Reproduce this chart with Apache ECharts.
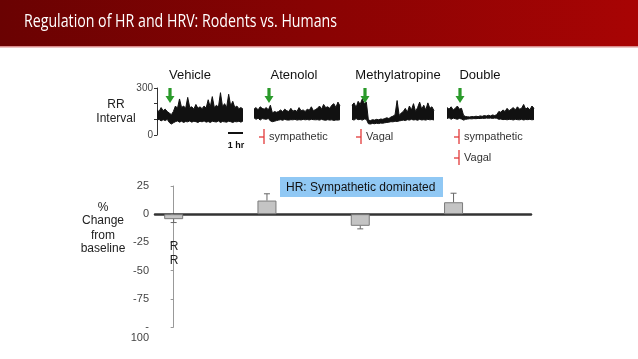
<!DOCTYPE html>
<html><head><meta charset="utf-8">
<script src="https://cdn.jsdelivr.net/npm/echarts@6/dist/echarts.min.js"></script>
<style>html,body{margin:0;padding:0;background:#fff}#c{width:638px;height:359px}</style>
</head><body><div id="c"></div>
<script>
// ---- data ----
const slideTitle = 'Regulation of HR and HRV: Rodents vs. Humans';
const panelNames = ['Vehicle', 'Atenolol', 'Methylatropine', 'Double'];
// RR interval traces: upper / lower envelope of the beat-to-beat signal (ms)
const vehicleHi = [160,150,175,155,165,150,140,130,150,185,170,230,175,185,170,240,175,180,165,195,170,180,168,185,172,225,178,245,175,190,178,270,180,200,175,260,185,215,175,185,168,175,165];
const vehicleLo = [95,100,90,98,92,100,80,70,78,85,90,82,88,80,86,84,90,82,88,85,80,88,84,90,82,86,80,88,85,83,90,80,86,84,82,88,85,80,86,84,88,82,90];
const atenololHi = [165,175,160,180,170,165,175,160,190,140,150,145,150,160,148,165,155,150,170,152,158,150,175,155,160,150,165,158,180,155,162,170,185,165,195,175,180,170,190,200,175,210,185];
const atenololLo = [110,100,108,95,105,102,100,106,90,85,88,92,95,98,94,100,96,95,98,97,100,95,98,96,100,97,99,96,100,98,97,98,95,100,96,94,98,95,97,93,96,95,98];
const methylHi = [190,205,175,215,195,230,200,210,95,92,98,95,100,97,102,100,105,110,105,115,120,130,220,125,140,150,170,145,185,160,200,150,175,210,165,190,160,205,170,180,155];
const methylLo = [100,95,105,98,100,95,102,100,72,70,74,72,75,73,76,75,78,80,82,85,84,88,86,90,92,95,92,98,95,100,96,98,94,100,96,98,95,100,97,99,96];
const doubleHi = [175,165,180,160,170,185,165,170,125,118,116,115,118,116,120,117,122,119,124,121,126,122,128,124,130,150,145,160,150,170,155,165,175,160,180,165,170,195,165,175,160,185,170];
const doubleLo = [105,110,100,108,104,100,106,102,95,100,102,104,103,105,104,106,105,107,106,108,107,108,106,108,107,100,102,98,100,97,100,99,96,100,98,97,100,96,99,98,100,97,99];
const traceTicks = [0, 300];
// % change from baseline (RR)
const barValues = [-4.4, 12.1, -10.3, 10.6];
const barErrors = [3.0, 6.0, 2.7, 8.0];

// ---- layout ----
const traces = [[vehicleHi, vehicleLo], [atenololHi, atenololLo], [methylHi, methylLo], [doubleHi, doubleLo]];
const traceGrids = [
  {left: 157, top: 88, width: 86, height: 47},
  {left: 254, top: 88, width: 86, height: 47},
  {left: 352, top: 88, width: 82, height: 47},
  {left: 447, top: 88, width: 87, height: 47}
];
const FONT = '"Liberation Sans", Arial, sans-serif';

const grids = traceGrids.map(g => Object.assign({containLabel: false}, g));
grids.push({left: 155, top: 186, width: 376, height: 141});

const xAxes = [], yAxes = [], series = [];
traces.forEach((t, i) => {
  const hi = t[0], lo = t[1];
  xAxes.push({type: 'category', gridIndex: i, boundaryGap: false, data: hi.map((_, k) => k), show: false});
  yAxes.push({
    type: 'value', gridIndex: i, min: 0, max: 300, interval: 100, show: i === 0,
    axisLine: {show: true, lineStyle: {color: '#333', width: 1}},
    axisTick: {show: true, length: 3, lineStyle: {color: '#333'}},
    splitLine: {show: false},
    axisLabel: {fontSize: 10, color: '#444', fontFamily: FONT, margin: 4,
      formatter: v => traceTicks.indexOf(v) >= 0 ? String(v) : ''}
  });
  series.push({type: 'line', xAxisIndex: i, yAxisIndex: i, data: lo, stack: 'rr' + i, symbol: 'none',
    lineStyle: {color: '#111', width: 1}, animation: false, silent: true});
  series.push({type: 'line', xAxisIndex: i, yAxisIndex: i, data: hi.map((h, k) => h - lo[k]), stack: 'rr' + i,
    symbol: 'none', lineStyle: {color: '#111', width: 1},
    areaStyle: {color: '#111', opacity: 1}, animation: false, silent: true});
});

xAxes.push({type: 'value', gridIndex: 4, min: -0.2, max: 3.83,
  axisLine: {show: true, onZero: true, lineStyle: {color: '#333', width: 2.5}},
  axisTick: {show: false}, axisLabel: {show: false}, splitLine: {show: false}});
yAxes.push({type: 'value', gridIndex: 4, min: -100, max: 25, interval: 25,
  axisLine: {show: true, lineStyle: {color: '#999', width: 1}},
  axisTick: {show: true, length: 3, lineStyle: {color: '#999'}},
  splitLine: {show: false},
  axisLabel: {fontSize: 11, color: '#444', fontFamily: FONT, margin: 6, lineHeight: 11,
    formatter: v => v === -100 ? '\n-\n100' : String(v)}});

series.push({type: 'bar', xAxisIndex: 4, yAxisIndex: 4, barWidth: 19,
  data: barValues.map((v, i) => [i, v]),
  itemStyle: {color: '#c4c4c4', borderColor: '#7a7a7a', borderWidth: 1},
  animation: false, silent: true, z: 1});
series.push({type: 'custom', xAxisIndex: 4, yAxisIndex: 4, z: 3, animation: false, silent: true,
  data: barValues.map((v, i) => [i, v, v + Math.sign(v) * barErrors[i]]),
  renderItem: (params, api) => {
    const x = api.value(0);
    const p1 = api.coord([x, api.value(1)]);
    const p2 = api.coord([x, api.value(2)]);
    const st = {stroke: '#666', lineWidth: 1};
    return {type: 'group', children: [
      {type: 'line', shape: {x1: p1[0], y1: p1[1], x2: p2[0], y2: p2[1]}, style: st},
      {type: 'line', shape: {x1: p2[0] - 3, y1: p2[1], x2: p2[0] + 3, y2: p2[1]}, style: st}
    ]};
  }});

// ---- annotations ----
function txt(x, y, text, size, opts) {
  opts = opts || {};
  return {type: 'text', x: x, y: y, z: 10, silent: true, style: {
    text: text, font: (opts.bold ? 'bold ' : '') + size + 'px ' + (opts.family || FONT),
    fill: opts.color || '#222', align: opts.align || 'center', textAlign: opts.align || 'center',
    verticalAlign: 'middle', textVerticalAlign: 'middle'}};
}
function arrow(x) {
  return {type: 'polygon', z: 10, silent: true, shape: {points: [
    [x - 1.6, 88], [x + 1.6, 88], [x + 1.6, 96], [x + 4.5, 96], [x, 103], [x - 4.5, 96], [x - 1.6, 96]]},
    style: {fill: '#2a9a2a'}};
}
function inhibit(x, y, label) {
  const st = {stroke: '#e23a3a', lineWidth: 1.3};
  return [
    {type: 'line', z: 10, silent: true, shape: {x1: x, y1: y - 8, x2: x, y2: y + 7}, style: st},
    {type: 'line', z: 10, silent: true, shape: {x1: x - 5, y1: y, x2: x, y2: y}, style: st},
    txt(x + 5, y, label, 11, {align: 'left', color: '#333'})
  ];
}

// title width fit (Calibri-like narrow face)
const cv = document.createElement('canvas').getContext('2d');
cv.font = '19px "Open Sans"';
const titleScale = 313 / cv.measureText(slideTitle).width;

const graphic = [
  {type: 'rect', z: 0, silent: true, shape: {x: 0, y: 0, width: 638, height: 46},
    style: {fill: new echarts.graphic.LinearGradient(0, 0, 1, 0.3, [
      {offset: 0, color: '#6a0202'}, {offset: 1, color: '#a80404'}])}},
  {type: 'rect', z: 0, silent: true, shape: {x: 0, y: 46, width: 638, height: 1.5}, style: {fill: '#d98c8c'}},
  {type: 'text', x: 24, y: 22, z: 10, silent: true, scaleX: titleScale, originX: 0,
    style: {text: slideTitle, font: '19px "Open Sans"', fill: '#ffffff', align: 'left', textAlign: 'left',
      verticalAlign: 'middle', textVerticalAlign: 'middle'}},
  txt(190, 75, panelNames[0], 13, {color: '#111'}),
  txt(294, 75, panelNames[1], 13, {color: '#111'}),
  txt(398, 75, panelNames[2], 13, {color: '#111'}),
  txt(480, 75, panelNames[3], 13, {color: '#111'}),
  txt(116, 105, 'RR', 12), txt(116, 119, 'Interval', 12),
  arrow(170), arrow(269), arrow(365), arrow(460),
  {type: 'line', z: 10, silent: true, shape: {x1: 228, y1: 133, x2: 243, y2: 133}, style: {stroke: '#111', lineWidth: 2}},
  txt(236, 146, '1 hr', 9, {bold: true, color: '#111'}),
  ...inhibit(264, 137, 'sympathetic'),
  ...inhibit(361, 137, 'Vagal'),
  ...inhibit(459, 137, 'sympathetic'),
  ...inhibit(459, 158, 'Vagal'),
  txt(103, 208, '%', 12), txt(103, 221, 'Change', 12), txt(103, 236, 'from', 12), txt(103, 249, 'baseline', 12),
  txt(174, 247, 'R', 12), txt(174, 261, 'R', 12),
  {type: 'rect', z: 9, silent: true, shape: {x: 280, y: 177, width: 163, height: 20}, style: {fill: '#90c8f4'}},
  txt(286, 187.5, 'HR: Sympathetic dominated', 12, {align: 'left', color: '#111'})
];

const chart = echarts.init(document.getElementById('c'), null, {renderer: 'canvas'});
chart.setOption({
  animation: false,
  backgroundColor: '#ffffff',
  grid: grids, xAxis: xAxes, yAxis: yAxes, series: series, graphic: graphic
});
</script></body></html>
